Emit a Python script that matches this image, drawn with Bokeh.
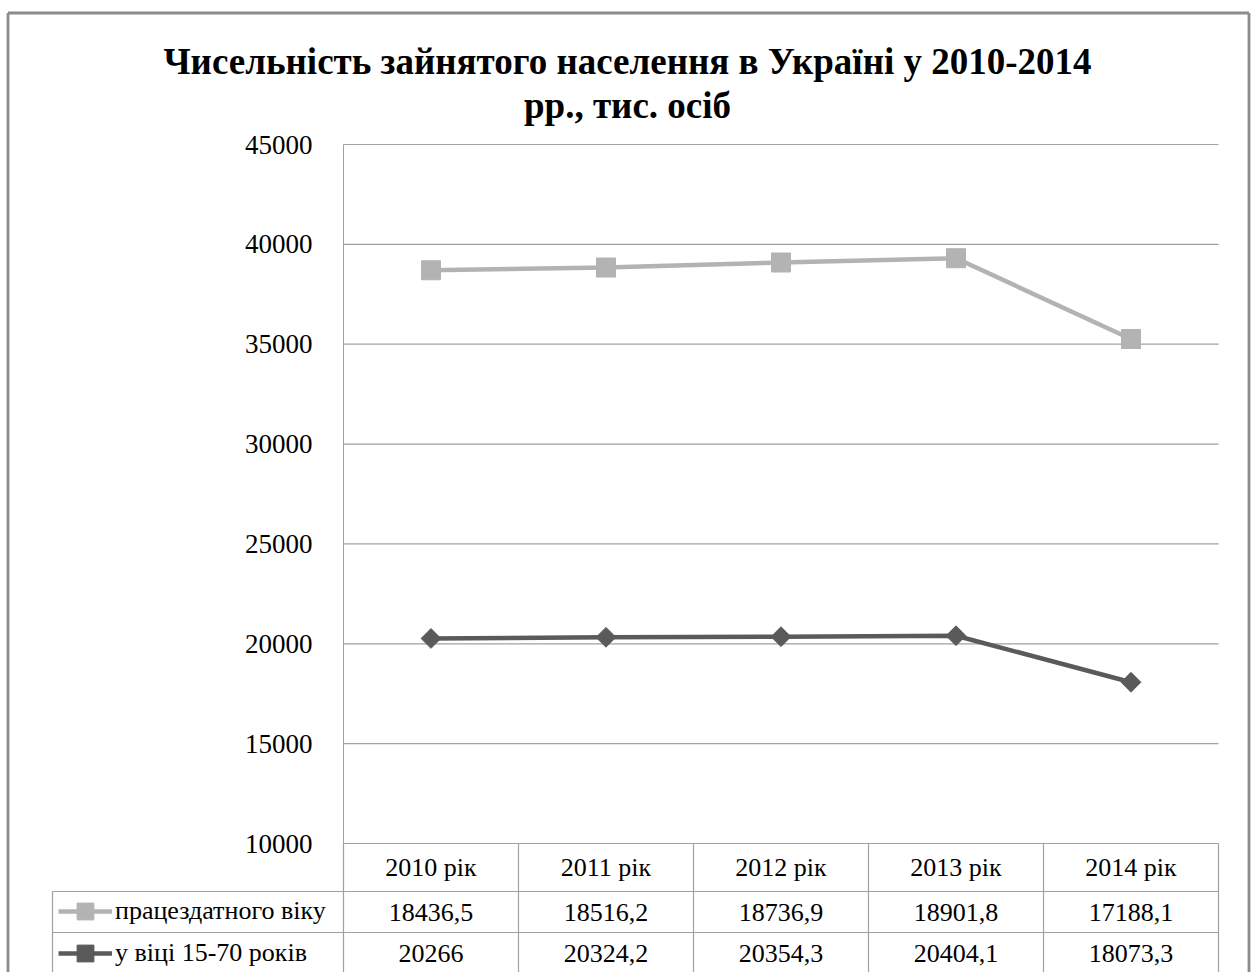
from bokeh.plotting import figure
from bokeh.models import Range1d, FixedTicker, Legend, LegendItem, Label
from bokeh.core.properties import value
from bokeh.embed import file_html
from bokeh.resources import INLINE

# ---------------- data ----------------
years = ["2010 рік", "2011 рік", "2012 рік", "2013 рік", "2014 рік"]
working_age = [18436.5, 18516.2, 18736.9, 18901.8, 17188.1]   # працездатного віку
age_15_70 = [20266, 20324.2, 20354.3, 20404.1, 18073.3]       # у віці 15-70 років
series_names = ["працездатного віку", "у віці 15-70 років"]
y_ticks = [10000, 15000, 20000, 25000, 30000, 35000, 40000, 45000]
title_lines = ["Чисельність зайнятого населення в Україні у 2010-2014", "рр., тис. осіб"]

# ---------------- style ----------------
LIGHT = "#b3b3b3"
DARK = "#5a5a5a"
GRID = "#a0a0a0"
BORDER = "#8c8c8c"
SERIF = "Liberation Serif"

W, H = 1254, 972
AX_PX = 343                      # page x of the value axis (left edge of first band)
Y0_PX, Y1_PX = 843, 144          # page y of first / last tick
ppu = (Y0_PX - Y1_PX) / (y_ticks[-1] - y_ticks[0])
BAND = 175.0


def dx(px):
    return -0.5 + (px - AX_PX) / BAND


def dy(py):
    return y_ticks[0] + (Y0_PX - py) / ppu


p = figure(width=W, height=H, output_backend="svg", toolbar_location=None,
           x_range=Range1d(dx(0), dx(W)), y_range=Range1d(dy(H), dy(0)),
           x_axis_location=None,
           min_border_left=0, min_border_right=0, min_border_top=0, min_border_bottom=0)
p.outline_line_color = None
p.background_fill_color = "white"
p.border_fill_color = "white"

# value axis, drawn at the left edge of the category bands
n = len(years)
p.yaxis.fixed_location = -0.5
p.yaxis.bounds = (y_ticks[0], y_ticks[-1])
p.yaxis.ticker = FixedTicker(ticks=y_ticks)
p.yaxis.major_tick_line_color = None
p.yaxis.minor_tick_line_color = None
p.yaxis.axis_line_color = GRID
p.yaxis.major_label_text_font = SERIF
p.yaxis.major_label_text_font_size = "27px"
p.yaxis.major_label_text_color = "black"
p.yaxis.major_label_standoff = 25
p.ygrid.visible = False
p.xgrid.visible = False

# horizontal gridlines across the plot area
p.segment(x0=[-0.5] * len(y_ticks), y0=y_ticks, x1=[n - 0.5] * len(y_ticks), y1=y_ticks,
          line_color=GRID, line_width=1.2)

xs = list(range(n))
stacked = [a + b for a, b in zip(working_age, age_15_70)]

r1l = p.line(xs, stacked, line_color=LIGHT, line_width=4.5)
r1m = p.scatter(xs, stacked, marker="square", size=19, fill_color=LIGHT, line_color=LIGHT)
r2l = p.line(xs, age_15_70, line_color=DARK, line_width=4.5)
r2m = p.scatter(xs, age_15_70, marker="square", angle=0.785398, size=14,
                fill_color=DARK, line_color=DARK)

# ---------------- data table ----------------
y_top = y_ticks[0]
y_r1 = dy(891)
y_r2 = dy(932)
y_bot = dy(H + 20)
x_leg = dx(52)
edges = [i - 0.5 for i in range(n + 1)]
p.segment(x0=edges, y0=[y_top] * len(edges), x1=edges, y1=[y_bot] * len(edges),
          line_color=GRID, line_width=1.2)
p.segment(x0=[x_leg, x_leg], y0=[y_r1, y_r2], x1=[edges[-1]] * 2, y1=[y_r1, y_r2],
          line_color=GRID, line_width=1.2)
p.segment(x0=[x_leg], y0=[y_r1], x1=[x_leg], y1=[y_bot], line_color=GRID, line_width=1.2)

fmt = lambda v: f"{v:g}".replace(".", ",")
tfont = value(SERIF)
p.text(x=xs, y=[dy(867)] * n, text=years, text_font=tfont, text_font_size="26px",
       text_align="center", text_baseline="middle", text_color="black")
p.text(x=xs, y=[dy(912)] * n, text=[fmt(v) for v in working_age], text_font=tfont,
       text_font_size="26px", text_align="center", text_baseline="middle", text_color="black")
p.text(x=xs, y=[dy(953)] * n, text=[fmt(v) for v in age_15_70], text_font=tfont,
       text_font_size="26px", text_align="center", text_baseline="middle", text_color="black")

legend = Legend(items=[LegendItem(label=series_names[0], renderers=[r1l, r1m]),
                       LegendItem(label=series_names[1], renderers=[r2l, r2m])],
                location=(58, H - 974), orientation="vertical",
                padding=0, margin=0, spacing=0, glyph_width=54, glyph_height=42,
                label_height=42, label_standoff=3, label_text_font=SERIF,
                label_text_font_size="26px", label_text_color="black",
                border_line_color=None, background_fill_alpha=0)
p.add_layout(legend, "center")

# outer chart border
bl, br, bt, bb = dx(7.5), dx(1248.5), dy(12.5), dy(H + 20)
p.segment(x0=[bl, bl, br], y0=[bt, bt, bt], x1=[br, bl, br], y1=[bt, bb, bb],
          line_color=BORDER, line_width=2.8)

# title
for txt, py in zip(title_lines, (61, 105)):
    p.add_layout(Label(x=dx(627), y=dy(py), text=txt, text_align="center",
                       text_baseline="alphabetic", text_font=SERIF, text_font_style="bold",
                       text_font_size="37px", text_color="black"))

open("out.html", "w").write(file_html(p, INLINE))
